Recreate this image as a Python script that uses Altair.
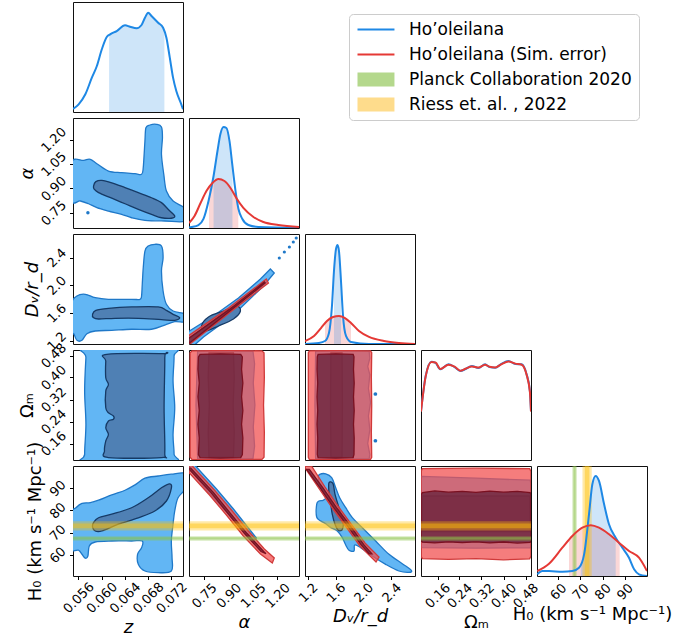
import altair as alt
import pandas as pd

FONT = "DejaVu Sans"
PANEL = 110
GAP = 6

# ---------------- ranges and ticks ----------------
Z_RANGE = [0.0551, 0.0740]
A_RANGE = [0.657, 1.333]
D_RANGE = [1.157, 2.74]
OM_RANGE = [0.10, 0.50]
H_RANGE = [50.5, 100.0]
DENS_RANGE = [0.0, 1.0]

Z_TICKS = [0.056, 0.060, 0.064, 0.068, 0.072]
A_TICKS = [0.75, 0.90, 1.05, 1.20]
D_TICKS = [1.2, 1.6, 2.0, 2.4]
OM_TICKS = [0.16, 0.24, 0.32, 0.40, 0.48]
H_TICKS = [60, 70, 80, 90]

# ---------------- legend ----------------
LEGEND_LABELS = ["Ho\u2019oleilana", "Ho\u2019oleilana (Sim. error)",
                 "Planck Collaboration 2020", "Riess et. al. , 2022"]
LEGEND_COLORS = ["#1e88e5", "#e53935", "#b4d88c", "#fedc8c"]

# external H0 measurements (value, 1-sigma)
PLANCK_H0 = [67.4, 0.5]
RIESS_H0 = [73.04, 1.04]

# ---------------- 1D marginals (x, density) ----------------
Z_BLUE = [(0.0551, 0.027), (0.05607, 0.07), (0.05722, 0.161), (0.05834, 0.312), (0.05920, 0.418),
          (0.06005, 0.57), (0.06090, 0.682), (0.06148, 0.706), (0.06261, 0.736), (0.06404, 0.788),
          (0.0649, 0.775), (0.06602, 0.761), (0.06688, 0.791), (0.06746, 0.857), (0.06802, 0.903),
          (0.06859, 0.873), (0.06973, 0.812), (0.07058, 0.766), (0.07115, 0.675), (0.07173, 0.494),
          (0.07229, 0.312), (0.07285, 0.191), (0.07371, 0.07), (0.0740, 0.025)]
Z_BLUE_CI = [(0.0613, 0.70), (0.0708, 0.74)]

A_BLUE = [(0.657, 0.005), (0.672, 0.009), (0.715, 0.027), (0.746, 0.082), (0.777, 0.245), (0.808, 0.473),
          (0.832, 0.70), (0.850, 0.855), (0.869, 0.918), (0.887, 0.909), (0.906, 0.79),
          (0.924, 0.564), (0.943, 0.336), (0.961, 0.173), (0.985, 0.082), (1.022, 0.027),
          (1.083, 0.009), (1.333, 0.0)]
A_RED = [(0.657, 0.045), (0.691, 0.109), (0.728, 0.227), (0.764, 0.336), (0.801, 0.409),
         (0.838, 0.445), (0.875, 0.427), (0.912, 0.364), (0.948, 0.273), (0.991, 0.182),
         (1.053, 0.1), (1.114, 0.055), (1.206, 0.027), (1.333, 0.009)]
A_BLUE_CI = [(0.808, 0.473), (0.924, 0.564)]
A_RED_CI = [(0.78, 0.37), (0.96, 0.25)]

D_BLUE = [(1.157, 0.0), (1.358, 0.009), (1.445, 0.027), (1.502, 0.1), (1.545, 0.345), (1.574, 0.664),
          (1.603, 0.864), (1.625, 0.9), (1.646, 0.845), (1.675, 0.573), (1.704, 0.255),
          (1.747, 0.073), (1.819, 0.018), (2.078, 0.0), (2.74, 0.0)]
D_RED = [(1.157, 0.027), (1.287, 0.073), (1.387, 0.145), (1.473, 0.209), (1.56, 0.245),
         (1.646, 0.255), (1.733, 0.236), (1.819, 0.191), (1.934, 0.118), (2.078, 0.064),
         (2.294, 0.027), (2.51, 0.009), (2.74, 0.0)]
D_BLUE_CI = [(1.574, 0.664), (1.675, 0.573)]
D_RED_CI = [(1.445, 0.19), (1.819, 0.191)]

OM_BLUE = [(0.100, 0.445), (0.117, 0.764), (0.138, 0.894), (0.153, 0.882), (0.170, 0.825),
           (0.200, 0.87), (0.222, 0.845), (0.243, 0.809), (0.262, 0.827), (0.285, 0.855),
           (0.309, 0.836), (0.333, 0.87), (0.349, 0.845), (0.370, 0.839), (0.392, 0.873),
           (0.418, 0.9), (0.443, 0.873), (0.466, 0.87), (0.484, 0.779), (0.496, 0.627), (0.500, 0.445)]
OM_RED = [(0.100, 0.44), (0.117, 0.76), (0.138, 0.89), (0.153, 0.886), (0.170, 0.828),
          (0.200, 0.866), (0.222, 0.848), (0.243, 0.812), (0.262, 0.83), (0.285, 0.85),
          (0.309, 0.84), (0.333, 0.866), (0.349, 0.848), (0.370, 0.842), (0.392, 0.87),
          (0.418, 0.895), (0.443, 0.876), (0.466, 0.866), (0.484, 0.775), (0.496, 0.62), (0.500, 0.44)]

H_BLUE = [(50.6, 0.015), (52.9, 0.045), (55.9, 0.045), (61.9, 0.039), (66.4, 0.045), (69.4, 0.075),
          (71.7, 0.197), (73.9, 0.561), (75.4, 0.834), (76.9, 0.909), (78.4, 0.864), (80.7, 0.652),
          (82.9, 0.47), (85.9, 0.348), (88.9, 0.257), (91.9, 0.166), (94.2, 0.061), (96.4, 0.015),
          (100.0, 0.0)]
H_RED = [(50.6, 0.045), (55.9, 0.112), (61.9, 0.257), (66.4, 0.364), (70.9, 0.439), (74.7, 0.461),
         (78.4, 0.439), (82.9, 0.379), (87.4, 0.303), (91.9, 0.227), (96.4, 0.166), (100.0, 0.045)]
H_BLUE_CI = [(70.2, 0.11), (85.9, 0.348)]
H_RED_CI = [(64.9, 0.33), (87.7, 0.30)]

# ---------------- 2D contours (polygon vertices) ----------------
ZA_B_OUT = [(0.0548, 1.058), (0.05693, 1.073), (0.05807, 1.079), (0.0592, 1.052), (0.06119, 1.007),
            (0.06346, 0.997), (0.06575, 0.991), (0.06688, 0.987), (0.06717, 1.028), (0.06746, 1.192),
            (0.06763, 1.273), (0.06831, 1.290), (0.06944, 1.294), (0.0703, 1.278), (0.07047, 1.212),
            (0.0703, 1.110), (0.0707, 0.987), (0.07115, 0.884), (0.0723, 0.823), (0.0745, 0.772),
            (0.0745, 0.700), (0.07087, 0.700), (0.06746, 0.704), (0.06517, 0.72), (0.06346, 0.741),
            (0.06119, 0.761), (0.0592, 0.782), (0.05778, 0.806), (0.05636, 0.823), (0.0548, 0.827)]
ZA_B_IN = [(0.05863, 0.915), (0.05903, 0.942), (0.06005, 0.950), (0.06176, 0.935), (0.06404, 0.905),
           (0.06632, 0.874), (0.06859, 0.843), (0.0703, 0.813), (0.07144, 0.772), (0.07258, 0.731),
           (0.07200, 0.717), (0.0703, 0.720), (0.06859, 0.741), (0.06632, 0.772), (0.06404, 0.806),
           (0.06176, 0.840), (0.05949, 0.874), (0.05876, 0.895)]
ZA_B_DOTS = [(0.05766, 0.751)]

ZD_B_OUT = [(0.0548, 1.728), (0.05578, 1.848), (0.05722, 1.872), (0.05892, 1.823), (0.06119, 1.80),
            (0.06517, 1.80), (0.06661, 1.80), (0.06688, 1.848), (0.06700, 2.016), (0.06717, 2.255),
            (0.06746, 2.495), (0.06802, 2.567), (0.06916, 2.592), (0.0703, 2.567), (0.07058, 2.399),
            (0.0703, 2.208), (0.07058, 1.92), (0.07115, 1.728), (0.0723, 1.632), (0.0745, 1.584),
            (0.0745, 1.478), (0.07258, 1.478), (0.07087, 1.43), (0.06859, 1.369), (0.06517, 1.369),
            (0.06176, 1.354), (0.05892, 1.344), (0.05749, 1.305), (0.05664, 1.21), (0.05578, 1.21),
            (0.05522, 1.305), (0.0548, 1.32)]
ZD_B_IN = [(0.05846, 1.584), (0.05903, 1.642), (0.06119, 1.671), (0.06517, 1.69), (0.06973, 1.69),
           (0.07115, 1.642), (0.0723, 1.584), (0.07343, 1.535), (0.07258, 1.498), (0.0703, 1.507),
           (0.06632, 1.527), (0.06234, 1.527), (0.05949, 1.517), (0.05863, 1.536)]

ZO_B_OUT = [(0.05749, 0.505), (0.0720, 0.505), (0.07246, 0.478), (0.07229, 0.387), (0.07258, 0.29),
            (0.07229, 0.193), (0.07246, 0.121), (0.0720, 0.095), (0.05749, 0.095), (0.0571, 0.121),
            (0.05732, 0.23), (0.0571, 0.351), (0.05732, 0.472)]
ZO_B_IN = [(0.0609, 0.4843), (0.07058, 0.4866), (0.07087, 0.472), (0.07075, 0.29), (0.07087, 0.127),
           (0.0703, 0.109), (0.06119, 0.109), (0.06051, 0.133), (0.06073, 0.169), (0.06119, 0.193),
           (0.06073, 0.2175), (0.06119, 0.242), (0.06205, 0.248), (0.06205, 0.26), (0.06119, 0.272),
           (0.06073, 0.29), (0.06073, 0.351), (0.06119, 0.375), (0.06073, 0.399), (0.06073, 0.46)]

ZH_B_OUT = [(0.0548, 78.3), (0.05561, 81.2), (0.05664, 83.2), (0.05807, 83.5), (0.05949, 84.6),
            (0.06176, 87.0), (0.06404, 89.1), (0.06575, 91.5), (0.06746, 94.5), (0.06973, 95.5),
            (0.0720, 96.3), (0.0745, 96.5), (0.0745, 90.2), (0.07315, 85.7), (0.07258, 79.75),
            (0.07229, 73.8), (0.0720, 66.25), (0.07212, 58.7), (0.0720, 52.75), (0.06973, 52.0),
            (0.06746, 52.75), (0.06632, 55.8), (0.0662, 60.3), (0.06688, 63.2), (0.067, 66.25),
            (0.06517, 66.25), (0.06176, 66.25), (0.05892, 65.8), (0.0579, 64.0), (0.05766, 59.5),
            (0.05722, 58.5), (0.05664, 60.3), (0.05607, 62.1), (0.0548, 63.2)]
ZH_B_IN = [(0.05863, 74.5), (0.05949, 76.7), (0.06176, 78.3), (0.06517, 81.2), (0.06802, 85.7),
           (0.0703, 90.2), (0.07172, 92.0), (0.0720, 90.0), (0.07115, 84.25), (0.06916, 79.75),
           (0.06632, 76.7), (0.0629, 73.8), (0.06005, 70.75), (0.05892, 70.75), (0.05846, 72.5)]

AD_B_OUT = [(0.65, 1.33), (0.807, 1.56), (0.961, 1.819), (1.096, 2.092), (1.157, 2.236),
            (1.181, 2.179), (1.114, 1.992), (0.961, 1.646), (0.838, 1.416), (0.746, 1.258),
            (0.69, 1.14), (0.65, 1.14)]
AD_B_IN = [(0.734, 1.416), (0.777, 1.546), (0.869, 1.632), (0.948, 1.704), (0.973, 1.632),
           (0.930, 1.517), (0.838, 1.416), (0.758, 1.344)]
AD_B_DOTS = [(1.212, 2.395), (1.243, 2.481), (1.274, 2.553), (1.298, 2.625), (1.316, 2.682)]
AD_R_OUT = [(0.65, 1.27), (0.90, 1.675), (1.132, 2.092), (1.145, 2.035), (0.912, 1.617),
            (0.67, 1.17), (0.65, 1.14)]
AD_R_IN = [(0.65, 1.23), (0.905, 1.655), (1.12, 2.05), (1.125, 2.035), (0.91, 1.635), (0.66, 1.17)]

AO_B_OUT = [(0.71, 0.496), (1.05, 0.496), (1.06, 0.45), (1.052, 0.38), (1.062, 0.30), (1.052, 0.22),
            (1.06, 0.15), (1.05, 0.104), (0.71, 0.104), (0.70, 0.30)]
AO_B_IN = [(0.78, 0.49), (0.93, 0.49), (0.935, 0.40), (0.928, 0.30), (0.935, 0.20), (0.93, 0.11),
           (0.78, 0.11), (0.775, 0.20), (0.782, 0.30), (0.775, 0.40)]
AO_R_OUT = [(0.675, 0.497), (0.90, 0.498), (1.105, 0.497), (1.118, 0.49), (1.12, 0.40), (1.115, 0.30),
            (1.12, 0.20), (1.118, 0.11), (1.105, 0.102), (0.90, 0.101), (0.675, 0.102), (0.664, 0.11),
            (0.664, 0.30), (0.664, 0.49)]
AO_R_IN = [(0.725, 0.484), (0.85, 0.486), (0.975, 0.484), (0.985, 0.475), (0.98, 0.43), (0.988, 0.38),
           (0.98, 0.33), (0.988, 0.28), (0.98, 0.23), (0.988, 0.18), (0.985, 0.12), (0.975, 0.109),
           (0.85, 0.107), (0.725, 0.109), (0.715, 0.12), (0.72, 0.18), (0.712, 0.23), (0.72, 0.28),
           (0.712, 0.33), (0.72, 0.38), (0.712, 0.43), (0.715, 0.475)]

AH_B_OUT = [(0.685, 101.0), (0.826, 89.65), (0.930, 80.65), (1.022, 72.1), (1.071, 67.6),
            (1.053, 66.25), (0.979, 71.65), (0.875, 80.2), (0.77, 88.75), (0.65, 99.5)]
AH_R_OUT = [(0.665, 101.0), (0.813, 89.2), (0.918, 80.2), (1.022, 70.75), (1.12, 62.65),
            (1.181, 58.6), (1.169, 56.35), (1.096, 60.4), (0.991, 68.5), (0.887, 77.95),
            (0.783, 86.95), (0.645, 98.0)]
AH_R_IN = [(0.668, 99.0), (0.808, 88.0), (0.908, 79.0), (1.014, 69.6), (1.116, 61.5), (1.13, 60.5),
           (1.10, 61.5), (0.998, 69.6), (0.892, 79.0), (0.792, 88.0), (0.652, 99.0)]

DO_B_OUT = [(1.31, 0.496), (2.08, 0.496), (2.09, 0.47), (2.06, 0.44), (2.09, 0.41), (2.07, 0.36),
            (2.10, 0.31), (2.07, 0.26), (2.09, 0.21), (2.06, 0.16), (2.09, 0.12), (2.08, 0.104),
            (1.31, 0.104), (1.30, 0.30)]
DO_B_IN = [(1.53, 0.49), (1.69, 0.49), (1.695, 0.30), (1.69, 0.11), (1.53, 0.11), (1.525, 0.30)]
DO_B_DOTS = [(2.17, 0.34), (2.17, 0.17)]
DO_R_OUT = [(1.22, 0.497), (1.65, 0.498), (2.10, 0.497), (2.117, 0.49), (2.112, 0.40), (2.117, 0.30),
            (2.112, 0.20), (2.117, 0.11), (2.10, 0.102), (1.65, 0.101), (1.22, 0.102), (1.205, 0.11),
            (1.205, 0.49)]
DO_R_IN = [(1.345, 0.484), (1.60, 0.486), (1.85, 0.484), (1.862, 0.475), (1.855, 0.43), (1.865, 0.38),
           (1.855, 0.33), (1.865, 0.28), (1.855, 0.23), (1.865, 0.18), (1.862, 0.12), (1.85, 0.109),
           (1.60, 0.107), (1.345, 0.109), (1.334, 0.12), (1.34, 0.18), (1.33, 0.23), (1.34, 0.28),
           (1.33, 0.33), (1.34, 0.38), (1.33, 0.43), (1.334, 0.475)]

DH_B_OUT = [(1.368, 96.25), (1.455, 96.5), (1.541, 94.75), (1.599, 90.25), (1.656, 85.75),
            (1.743, 81.25), (1.838, 76.75), (1.982, 72.25), (2.174, 66.25), (2.366, 60.25),
            (2.557, 56.05), (2.687, 53.05), (2.653, 52.15), (2.509, 52.75), (2.318, 55.75),
            (2.125, 59.5), (1.958, 63.25), (1.872, 64.45), (1.862, 61.75), (1.790, 62.05),
            (1.743, 64.45), (1.694, 67.75), (1.622, 70.75), (1.527, 72.25), (1.455, 74.05),
            (1.383, 75.25), (1.325, 77.05), (1.325, 82.75), (1.358, 84.25), (1.416, 84.55),
            (1.455, 85.75), (1.406, 88.75), (1.358, 92.5), (1.348, 95.05)]
DH_B_IN = [(1.502, 92.5), (1.56, 92.05), (1.589, 87.25), (1.646, 81.25), (1.704, 75.25), (1.694, 71.5),
           (1.636, 71.05), (1.589, 73.75), (1.55, 78.25), (1.527, 82.75), (1.502, 87.95)]
DH_R_OUT = [(1.23, 101.0), (1.445, 90.55), (1.632, 82.0), (1.819, 73.9), (2.02, 65.35), (2.222, 59.05),
            (2.179, 56.8), (1.948, 64.0), (1.761, 72.1), (1.56, 80.65), (1.373, 89.2), (1.15, 99.5)]
DH_R_IN = [(1.22, 98.5), (1.42, 89.9), (1.61, 81.3), (1.81, 73.0), (2.0, 64.7), (2.12, 60.5),
           (2.08, 60.5), (1.96, 64.7), (1.77, 73.0), (1.57, 81.3), (1.38, 89.9), (1.18, 98.5)]

OH_B_OUT = [(0.103, 95.3), (0.30, 94.5), (0.497, 93.6), (0.5, 92.0), (0.5, 64.0), (0.497, 63.2),
            (0.30, 63.0), (0.103, 63.3), (0.1, 64.0), (0.1, 94.0)]
OH_B_IN = [(0.105, 86.5), (0.495, 86.5), (0.497, 70.5), (0.105, 70.5)]
OH_R_OUT = [(0.105, 98.8), (0.30, 99.0), (0.495, 98.8), (0.5, 97.5), (0.5, 59.5), (0.495, 58.2),
            (0.40, 57.8), (0.30, 58.3), (0.20, 58.0), (0.105, 58.3), (0.1, 59.5), (0.1, 97.5)]
OH_R_IN = [(0.105, 88.0), (0.15, 88.8), (0.20, 88.2), (0.25, 88.6), (0.30, 88.1), (0.35, 88.7),
           (0.40, 88.2), (0.45, 88.6), (0.497, 88.0), (0.5, 87.0), (0.5, 66.5), (0.497, 65.6),
           (0.45, 65.3), (0.40, 65.8), (0.35, 65.4), (0.30, 65.9), (0.25, 65.5), (0.20, 65.9),
           (0.15, 65.4), (0.105, 65.7), (0.1, 66.5), (0.1, 87.0)]

# ---------------- styling ----------------
BLUE = "#1e88e5"
RED = "#e53935"
B_OUT_FILL, B_OUT_EDGE = "#62b6f4", "#1f78c8"
B_IN_FILL, B_IN_EDGE = "#4f80b4", "#163a66"
R_OUT_FILL, R_OUT_EDGE = "#f25252", "#d03a3a"
R_IN_FILL, R_IN_EDGE = "#63203b", "#7a1020"
GREEN_BAND = "#8bc34a"
ORANGE_BAND = "#ffc107"

SPEC = {
    "z": dict(rng=Z_RANGE, ticks=Z_TICKS, fmt=".3f", title="z", style="italic", pad=18),
    "a": dict(rng=A_RANGE, ticks=A_TICKS, fmt=".2f", title="\u03b1", style="italic", pad=16),
    "d": dict(rng=D_RANGE, ticks=D_TICKS, fmt=".1f", title="D\u1d65/r_d", style="italic", pad=13),
    "o": dict(rng=OM_RANGE, ticks=OM_TICKS, fmt=".2f", title="\u03a9\u2098", style="normal", pad=16),
    "h": dict(rng=H_RANGE, ticks=H_TICKS, fmt="d", title="H\u2080 (km s\u207b\u00b9 Mpc\u207b\u00b9)",
              style="normal", pad=12),
    "p": dict(rng=DENS_RANGE),
}


def make_axis(key):
    s = SPEC[key]
    return alt.Axis(values=s["ticks"], format=s["fmt"], title=s["title"], titleFontStyle=s["style"],
                    labelAngle=315, labelAlign="center", labelBaseline="middle",
                    labelPadding=s["pad"], labelOverlap=False, labelFlush=False)


class Panel:
    def __init__(self, xk, yk, showx, showy):
        self.xk, self.yk, self.showx, self.showy = xk, yk, showx, showy
        self.layers = []

    def X(self, field="x"):
        sc = alt.Scale(domain=SPEC[self.xk]["rng"], nice=False, zero=False)
        return alt.X(f"{field}:Q", scale=sc, axis=make_axis(self.xk) if self.showx else None)

    def Y(self, field="y"):
        sc = alt.Scale(domain=SPEC[self.yk]["rng"], nice=False, zero=False)
        return alt.Y(f"{field}:Q", scale=sc, axis=make_axis(self.yk) if self.showy else None)

    def poly(self, pts, fill, stroke, fop=1.0, interp="cardinal-closed", sw=1.3):
        df = pd.DataFrame({"x": [p[0] for p in pts], "y": [p[1] for p in pts],
                           "i": list(range(len(pts)))})
        self.layers.append(
            alt.Chart(df).mark_line(fill=fill, fillOpacity=fop, stroke=stroke, strokeWidth=sw,
                                    interpolate=interp, clip=True)
            .encode(x=self.X(), y=self.Y(), order=alt.Order("i:Q")))

    def dots(self, pts, color, size=18):
        df = pd.DataFrame({"x": [p[0] for p in pts], "y": [p[1] for p in pts]})
        self.layers.append(alt.Chart(df).mark_circle(size=size, color=color, opacity=1, clip=True)
                           .encode(x=self.X(), y=self.Y()))

    def curve(self, pts, color, sw=2):
        df = pd.DataFrame({"x": [p[0] for p in pts], "y": [p[1] for p in pts]})
        self.layers.append(alt.Chart(df).mark_line(color=color, strokeWidth=sw, interpolate="monotone",
                                                   clip=True).encode(x=self.X(), y=self.Y()))

    def shade(self, pts, ci, color, op):
        lo, hi = ci
        inner = [p for p in pts if lo[0] < p[0] < hi[0]]
        sel = [lo] + inner + [hi]
        df = pd.DataFrame({"x": [p[0] for p in sel], "y": [p[1] for p in sel]})
        self.layers.append(alt.Chart(df).mark_area(color=color, opacity=op, interpolate="monotone",
                                                   clip=True).encode(x=self.X(), y=self.Y()))

    def bands(self, vertical):
        for (val, err), col in [(PLANCK_H0, GREEN_BAND), (RIESS_H0, ORANGE_BAND)]:
            for k, op in [(2, 0.35), (1, 0.45)]:
                df = pd.DataFrame({"lo": [val - k * err], "hi": [val + k * err]})
                ch = alt.Chart(df).mark_rect(color=col, opacity=op, clip=True)
                if vertical:
                    ch = ch.encode(x=self.X("lo"), x2="hi:Q")
                else:
                    ch = ch.encode(y=self.Y("lo"), y2="hi:Q")
                self.layers.append(ch)

    def chart(self):
        return alt.layer(*self.layers).properties(width=PANEL, height=PANEL)


def blank():
    return (alt.Chart(pd.DataFrame({"v": []})).mark_point(opacity=0, size=0)
            .encode(x=alt.value(0), y=alt.value(0))
            .properties(width=PANEL, height=PANEL, view=alt.ViewBackground(stroke="transparent")))


LINE_PATH = "M-1,-0.13H4.28V0.13H-1Z"
PATCH_PATH = "M-1,-1H4.28V1H-1Z"
LEG = alt.Legend(title=None, orient="none", legendX=276, legendY=12, direction="vertical",
                 labelFont=FONT, labelFontSize=17, labelColor="black", symbolSize=196,
                 symbolStrokeWidth=0, symbolOpacity=1, labelOffset=36, rowPadding=7, padding=7,
                 strokeColor="#cccccc", fillColor="white", cornerRadius=4, labelLimit=500)

# ---------------- build panels ----------------
# row 1
p11 = Panel("z", "p", False, False)
p11.shade(Z_BLUE, Z_BLUE_CI, BLUE, 0.22)
p11.curve(Z_BLUE, BLUE)
leg_df = pd.DataFrame({"label": LEGEND_LABELS})
p11.layers.append(
    alt.Chart(leg_df).mark_point(filled=True, opacity=0, size=0)
    .encode(x=alt.value(55), y=alt.value(55),
            fill=alt.Fill("label:N", scale=alt.Scale(domain=LEGEND_LABELS, range=LEGEND_COLORS), legend=LEG),
            shape=alt.Shape("label:N", scale=alt.Scale(domain=LEGEND_LABELS,
                                                       range=[LINE_PATH, LINE_PATH, PATCH_PATH, PATCH_PATH]),
                            legend=LEG)))

# row 2
p21 = Panel("z", "a", False, True)
p21.poly(ZA_B_OUT, B_OUT_FILL, B_OUT_EDGE)
p21.poly(ZA_B_IN, B_IN_FILL, B_IN_EDGE)
p21.dots(ZA_B_DOTS, B_OUT_EDGE, 12)
p22 = Panel("a", "p", False, False)
p22.shade(A_RED, A_RED_CI, RED, 0.2)
p22.shade(A_BLUE, A_BLUE_CI, BLUE, 0.22)
p22.curve(A_BLUE, BLUE)
p22.curve(A_RED, RED)

# row 3
p31 = Panel("z", "d", False, True)
p31.poly(ZD_B_OUT, B_OUT_FILL, B_OUT_EDGE)
p31.poly(ZD_B_IN, B_IN_FILL, B_IN_EDGE)
p32 = Panel("a", "d", False, False)
p32.poly(AD_B_OUT, B_OUT_FILL, B_OUT_EDGE, interp="linear-closed")
p32.poly(AD_B_IN, B_IN_FILL, B_IN_EDGE)
p32.dots(AD_B_DOTS, B_OUT_EDGE, 10)
p32.poly(AD_R_OUT, R_OUT_FILL, R_OUT_EDGE, 0.75, interp="linear-closed")
p32.poly(AD_R_IN, R_IN_FILL, R_IN_EDGE, 0.75, interp="linear-closed")
p33 = Panel("d", "p", False, False)
p33.shade(D_RED, D_RED_CI, RED, 0.2)
p33.shade(D_BLUE, D_BLUE_CI, BLUE, 0.22)
p33.curve(D_BLUE, BLUE)
p33.curve(D_RED, RED)

# row 4
p41 = Panel("z", "o", False, True)
p41.poly(ZO_B_OUT, B_OUT_FILL, B_OUT_EDGE)
p41.poly(ZO_B_IN, B_IN_FILL, B_IN_EDGE)
p42 = Panel("a", "o", False, False)
p42.poly(AO_B_OUT, B_OUT_FILL, B_OUT_EDGE, interp="linear-closed")
p42.poly(AO_B_IN, B_IN_FILL, B_IN_EDGE, interp="linear-closed")
p42.poly(AO_R_OUT, R_OUT_FILL, R_OUT_EDGE, 0.75, interp="linear-closed")
p42.poly(AO_R_IN, R_IN_FILL, R_IN_EDGE, 0.75, interp="linear-closed")
p43 = Panel("d", "o", False, False)
p43.poly(DO_B_OUT, B_OUT_FILL, B_OUT_EDGE, interp="linear-closed")
p43.poly(DO_B_IN, B_IN_FILL, B_IN_EDGE, interp="linear-closed")
p43.dots(DO_B_DOTS, B_OUT_EDGE, 14)
p43.poly(DO_R_OUT, R_OUT_FILL, R_OUT_EDGE, 0.75, interp="linear-closed")
p43.poly(DO_R_IN, R_IN_FILL, R_IN_EDGE, 0.75, interp="linear-closed")
p44 = Panel("o", "p", False, False)
p44.curve(OM_BLUE, BLUE)
p44.curve(OM_RED, RED)

# row 5
p51 = Panel("z", "h", True, True)
p51.poly(ZH_B_OUT, B_OUT_FILL, B_OUT_EDGE)
p51.poly(ZH_B_IN, B_IN_FILL, B_IN_EDGE)
p51.bands(False)
p52 = Panel("a", "h", True, False)
p52.poly(AH_B_OUT, B_OUT_FILL, B_OUT_EDGE, interp="linear-closed")
p52.poly(AH_R_OUT, R_OUT_FILL, R_OUT_EDGE, 0.75, interp="linear-closed")
p52.poly(AH_R_IN, R_IN_FILL, R_IN_EDGE, 0.75, interp="linear-closed")
p52.bands(False)
p53 = Panel("d", "h", True, False)
p53.poly(DH_B_OUT, B_OUT_FILL, B_OUT_EDGE)
p53.poly(DH_B_IN, B_IN_FILL, B_IN_EDGE)
p53.poly(DH_R_OUT, R_OUT_FILL, R_OUT_EDGE, 0.75, interp="linear-closed")
p53.poly(DH_R_IN, R_IN_FILL, R_IN_EDGE, 0.75, interp="linear-closed")
p53.bands(False)
p54 = Panel("o", "h", True, False)
p54.poly(OH_B_OUT, B_OUT_FILL, B_OUT_EDGE, interp="linear-closed")
p54.poly(OH_B_IN, B_IN_FILL, B_IN_EDGE, interp="linear-closed")
p54.poly(OH_R_OUT, R_OUT_FILL, R_OUT_EDGE, 0.75, interp="linear-closed")
p54.poly(OH_R_IN, R_IN_FILL, R_IN_EDGE, 0.75, interp="linear-closed")
p54.bands(False)
p55 = Panel("h", "p", True, False)
p55.shade(H_RED, H_RED_CI, RED, 0.2)
p55.shade(H_BLUE, H_BLUE_CI, BLUE, 0.22)
p55.bands(True)
p55.curve(H_BLUE, BLUE)
p55.curve(H_RED, RED)

cells = [
    p11.chart(), blank(), blank(), blank(), blank(),
    p21.chart(), p22.chart(), blank(), blank(), blank(),
    p31.chart(), p32.chart(), p33.chart(), blank(), blank(),
    p41.chart(), p42.chart(), p43.chart(), p44.chart(), blank(),
    p51.chart(), p52.chart(), p53.chart(), p54.chart(), p55.chart(),
]

chart = (
    alt.concat(*cells, columns=5, spacing=GAP, bounds="flush")
    .properties(padding={"left": 17, "top": 1, "right": 5, "bottom": 5})
    .configure_view(stroke="#111111", strokeWidth=1)
    .configure_axis(labelFont=FONT, titleFont=FONT, labelFontSize=13, titleFontSize=18,
                    titleFontWeight="normal", labelColor="black", titleColor="black",
                    tickColor="black", tickSize=3.5, tickWidth=1, domain=False, grid=False,
                    titlePadding=3)
)

chart.save("out.html", embed_options={"renderer": "svg", "actions": False})
